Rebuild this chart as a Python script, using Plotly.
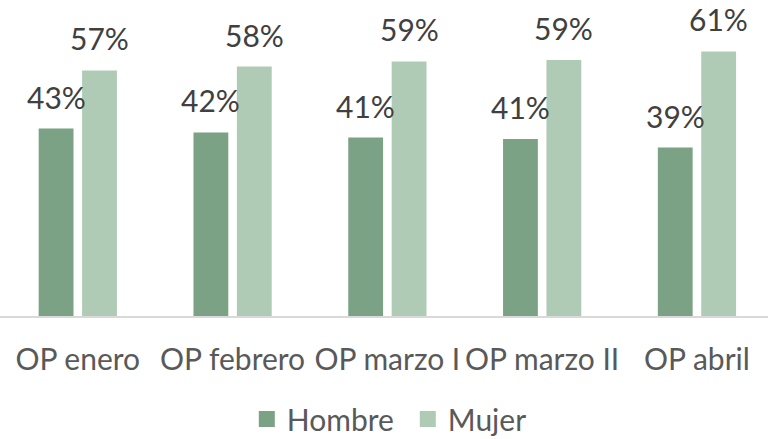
import plotly.graph_objects as go

categories = ["OP enero", "OP febrero", "OP marzo I", "OP marzo II", "OP abril"]
hombre = [43.3, 42.4, 41.2, 40.9, 38.9]
mujer = [56.7, 57.6, 58.8, 59.1, 61.1]
hombre_labels = ["43%", "42%", "41%", "41%", "39%"]
mujer_labels = ["57%", "58%", "59%", "59%", "61%"]

C_H = "#7ba284"
C_M = "#afcbb5"
FONT = "Lato"

fig = go.Figure()
fig.add_trace(go.Bar(x=categories, y=hombre, name="Hombre", marker=dict(color=C_H, line=dict(width=0)),
                     showlegend=False, hoverinfo="skip"))
fig.add_trace(go.Bar(x=categories, y=mujer, name="Mujer", marker=dict(color=C_M, line=dict(width=0)),
                     showlegend=False, hoverinfo="skip"))
# legend proxies
fig.add_trace(go.Scatter(x=[None], y=[None], mode="markers", name="Hombre",
                         marker=dict(symbol="square", size=18, color=C_H)))
fig.add_trace(go.Scatter(x=[None], y=[None], mode="markers", name="Mujer",
                         marker=dict(symbol="square", size=18, color=C_M)))

for cat, v, t in zip(categories, hombre, hombre_labels):
    fig.add_annotation(x=cat, y=v, text=t, showarrow=False, xshift=-21.7, yshift=12,
                       yanchor="bottom", font=dict(family=FONT, size=30, color="#404040"))
for cat, v, t in zip(categories, mujer, mujer_labels):
    fig.add_annotation(x=cat, y=v, text=t, showarrow=False, xshift=21.7, yshift=12,
                       yanchor="bottom", font=dict(family=FONT, size=30, color="#404040"))

fig.update_layout(
    template="none",
    width=768, height=439,
    margin=dict(l=0, r=0, t=0, b=123, pad=0, autoexpand=False),
    paper_bgcolor="white", plot_bgcolor="white",
    barmode="group", bargap=0.439, bargroupgap=0.198,
    font=dict(family=FONT, size=30, color="#595959"),
    showlegend=True,
    legend=dict(orientation="h", x=0.531, xanchor="center", xref="container",
                y=20 / 439, yanchor="middle", yref="container",
                font=dict(family=FONT, size=30, color="#595959"), itemsizing="trace",
                entrywidth=116, entrywidthmode="pixels", borderwidth=0,
                bgcolor="rgba(0,0,0,0)", tracegroupgap=0),
    xaxis=dict(range=[-0.5026, 4.459], showgrid=False, zeroline=False, showline=True,
               linecolor="#d9d9d9", linewidth=2, ticks="", ticklabelstandoff=16,
               automargin=False,
               tickfont=dict(family=FONT, size=30, color="#595959"), fixedrange=True),
    yaxis=dict(range=[0, 72.98], visible=False, showgrid=False, zeroline=False,
               automargin=False, fixedrange=True),
)

fig.write_html("out.html", post_script="document.body.style.margin='0';",
               config={"displayModeBar": False})
